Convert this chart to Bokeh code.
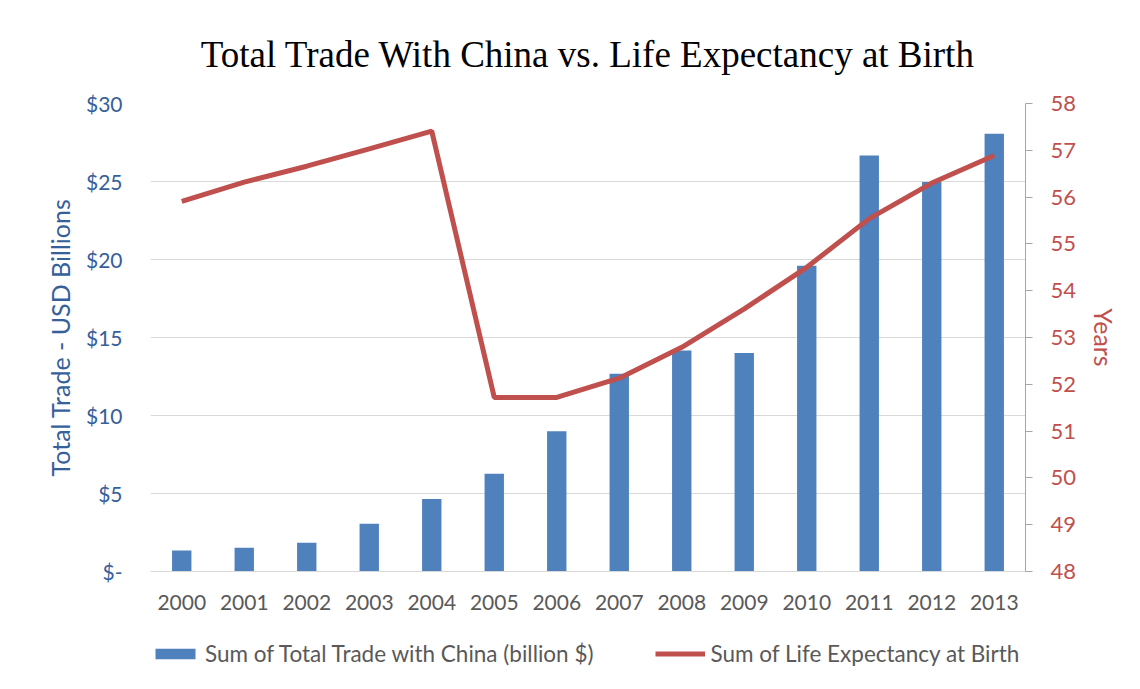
from bokeh.plotting import figure
from bokeh.layouts import column
from bokeh.models import (Range1d, LinearAxis, FixedTicker, Legend, LegendItem,
                          ColumnDataSource, Title)
from bokeh.embed import file_html
from bokeh.resources import INLINE

years = ["2000", "2001", "2002", "2003", "2004", "2005", "2006",
         "2007", "2008", "2009", "2010", "2011", "2012", "2013"]
trade_billion = [1.35, 1.52, 1.84, 3.06, 4.64, 6.26, 8.99,
                 12.67, 14.17, 14.0, 19.6, 26.67, 24.96, 28.06]
life_expectancy = [55.91, 56.32, 56.66, 57.03, 57.41, 51.72, 51.72,
                   52.13, 52.79, 53.61, 54.50, 55.54, 56.30, 56.89]
left_ticks = [0, 5, 10, 15, 20, 25, 30]
left_labels = ["$-", "$5", "$10", "$15", "$20", "$25", "$30"]
right_ticks = [48, 49, 50, 51, 52, 53, 54, 55, 56, 57, 58]
legend_labels = ["Sum of Total Trade with China (billion $)",
                 "Sum of Life Expectancy at Birth"]

src = ColumnDataSource(dict(year=years, trade=trade_billion, life=life_expectancy))

FONT = "Lato"
BLUE_TXT = "#35609A"
BAR = "#4F81BD"
RED = "#C0504D"
GRAY_TXT = "#595959"

MAIN_H = 629
LEG_H = 689 - MAIN_H

p = figure(width=1140, height=MAIN_H, x_range=years, y_range=Range1d(0, 30),
           output_backend="svg", toolbar_location=None,
           min_border_left=150, min_border_right=115,
           min_border_top=103, min_border_bottom=MAIN_H - 571)
p.outline_line_color = None
p.background_fill_color = "white"
p.border_fill_color = "white"

t = Title(text="Total Trade With China vs. Life Expectancy at Birth",
          text_font="Liberation Serif", text_font_size="37px",
          text_font_style="normal", text_color="black", align="center",
          standoff=58)
p.add_layout(t, "above")

p.extra_y_ranges = {"life": Range1d(48, 58)}

bars = p.vbar(x="year", top="trade", width=0.31, source=src,
              fill_color=BAR, line_color=None)
line = p.line(x="year", y="life", source=src, y_range_name="life",
              line_color=RED, line_width=5)

# left axis
ya = p.yaxis[0]
ya.ticker = FixedTicker(ticks=left_ticks)
ya.major_label_overrides = {k: v for k, v in zip(left_ticks, left_labels)}
ya.axis_line_color = None
ya.major_tick_line_color = None
ya.minor_tick_line_color = None
ya.major_label_text_font = FONT
ya.major_label_text_font_size = "21px"
ya.major_label_text_color = BLUE_TXT
ya.major_label_standoff = 22
ya.axis_label = "Total Trade - USD Billions"
ya.axis_label_text_font = FONT
ya.axis_label_text_font_size = "25px"
ya.axis_label_text_font_style = "normal"
ya.axis_label_text_color = BLUE_TXT
ya.axis_label_standoff = 8

# right axis
ra = LinearAxis(y_range_name="life", ticker=FixedTicker(ticks=right_ticks))
ra.axis_line_color = "#A6A6A6"
ra.major_tick_line_color = "#A6A6A6"
ra.major_tick_in = 0
ra.major_tick_out = 7
ra.minor_tick_line_color = None
ra.major_label_text_font = FONT
ra.major_label_text_font_size = "22px"
ra.major_label_text_color = RED
ra.major_label_standoff = 18
ra.axis_label = "Years"
ra.axis_label_text_font = FONT
ra.axis_label_text_font_size = "25px"
ra.axis_label_text_font_style = "normal"
ra.axis_label_text_color = RED
ra.axis_label_standoff = 10
p.add_layout(ra, "right")

# x axis
xa = p.xaxis[0]
xa.axis_line_color = "#D9D9D9"
xa.major_tick_line_color = None
xa.minor_tick_line_color = None
xa.major_label_text_font = FONT
xa.major_label_text_font_size = "21px"
xa.major_label_text_color = GRAY_TXT
xa.major_label_standoff = 17

p.xgrid.grid_line_color = None
p.ygrid.grid_line_color = "#D9D9D9"
p.ygrid.grid_line_width = 1.2
p.ygrid.ticker = FixedTicker(ticks=left_ticks)

# legend strip below the chart (swatch renderers sit outside its visible range)
lg = figure(width=1140, height=LEG_H, x_range=Range1d(0, 1), y_range=Range1d(0, 1),
            output_backend="svg", toolbar_location=None,
            x_axis_location=None, y_axis_location=None,
            min_border=0)
lg.outline_line_color = None
lg.grid.grid_line_color = None
lg.background_fill_color = "white"
lg.border_fill_color = "white"
off = ColumnDataSource(dict(x=[-10, -9], y=[-10, -10], top=[-10, -10]))
lb = lg.vbar(x="x", top="top", width=0.1, source=off, fill_color=BAR, line_color=None)
ll = lg.line(x="x", y="y", source=off, line_color=RED, line_width=5)

legend = Legend(items=[
    LegendItem(label=legend_labels[0], renderers=[lb]),
    LegendItem(label=legend_labels[1], renderers=[ll]),
], orientation="horizontal", location=(0, 22),
    label_text_font=FONT, label_text_font_size="22.5px", label_text_color=GRAY_TXT,
    glyph_width=50, glyph_height=13, spacing=62, label_standoff=5,
    border_line_color=None, background_fill_alpha=0, margin=0, padding=0)
lg.add_layout(legend, "center")

layout = column(p, lg, spacing=0)
open("out.html", "w").write(file_html(layout, INLINE))
